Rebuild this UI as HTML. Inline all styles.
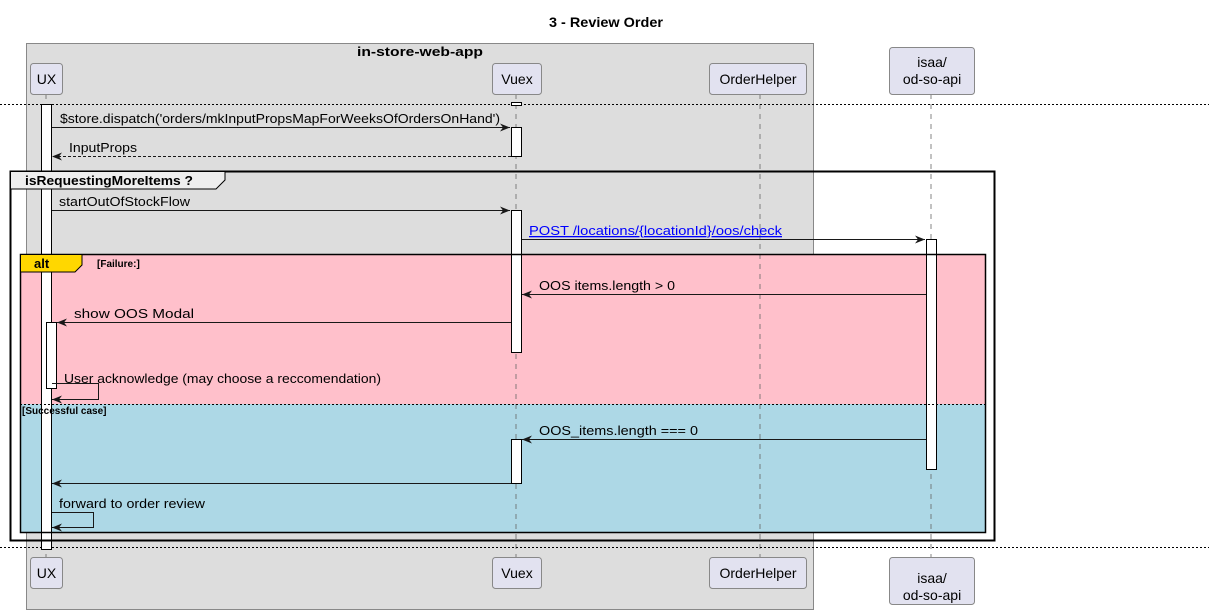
<!DOCTYPE html>
<html><head><meta charset="utf-8"><style>
html,body{margin:0;padding:0;background:#fff;}
svg{display:block;font-family:"Liberation Sans","DejaVu Sans",sans-serif;}
</style></head><body>
<svg width="1209" height="614" viewBox="0 0 1209 614" xmlns="http://www.w3.org/2000/svg">
<defs>
<marker id="a" viewBox="0 0 10 10" refX="10" refY="5" markerWidth="10" markerHeight="10" orient="auto-start-reverse" markerUnits="userSpaceOnUse">
<path d="M0,1 L10,5 L0,9 L3,5 Z" fill="#181818"/></marker>
</defs>
<text x="549" y="27" font-size="14" font-weight="bold" fill="#000" textLength="114" lengthAdjust="spacingAndGlyphs">3 - Review Order</text>
<rect x="26.5" y="43.5" width="787" height="566" fill="#dddddd" stroke="#888" stroke-width="1"/>
<text x="357" y="56" font-size="13" font-weight="bold" textLength="126" lengthAdjust="spacingAndGlyphs">in-store-web-app</text>

<rect x="20" y="254" width="966" height="150" fill="#ffc0cb"/>
<rect x="20" y="404" width="966" height="129" fill="#add8e6"/>

<g stroke="#666" stroke-dasharray="5,5" stroke-width="0.8">
<line x1="46" y1="94" x2="46" y2="557"/>
<line x1="516" y1="94" x2="516" y2="557"/>
<line x1="760" y1="94" x2="760" y2="557"/>
<line x1="931" y1="94" x2="931" y2="557"/>
</g>

<g fill="#e2e2f0" stroke="#888" stroke-width="1">
<rect x="30.5" y="63.5" width="32" height="31" rx="3"/>
<rect x="492.5" y="63.5" width="49" height="31" rx="3"/>
<rect x="709.5" y="63.5" width="97" height="31" rx="3"/>
<rect x="889.5" y="47.5" width="85" height="47" rx="3"/>
<rect x="30.5" y="557.5" width="32" height="31" rx="3"/>
<rect x="492.5" y="557.5" width="49" height="31" rx="3"/>
<rect x="709.5" y="557.5" width="97" height="31" rx="3"/>
<rect x="889.5" y="557.5" width="85" height="47" rx="3"/>
</g>
<g font-size="14" text-anchor="middle" fill="#000">
<text x="46.5" y="84">UX</text>
<text x="517" y="84">Vuex</text>
<text x="758" y="84">OrderHelper</text>
<text x="932" y="67">isaa/</text>
<text x="932" y="84">od-so-api</text>
<text x="46.5" y="578">UX</text>
<text x="517" y="578">Vuex</text>
<text x="758" y="578">OrderHelper</text>
<text x="932" y="583">isaa/</text>
<text x="932" y="600">od-so-api</text>
</g>

<line x1="0" y1="104.5" x2="1209" y2="104.5" stroke="#000" stroke-dasharray="2,2" stroke-width="1"/>
<line x1="0" y1="547.5" x2="1209" y2="547.5" stroke="#000" stroke-dasharray="2,2" stroke-width="1"/>

<g fill="#fff" stroke="#000" stroke-width="1">
<rect x="41.5" y="104.5" width="10" height="445"/>
<rect x="46.5" y="322.5" width="10" height="66"/>
<rect x="511.5" y="102.5" width="10" height="3"/>
<rect x="511.5" y="127.5" width="10" height="29"/>
<rect x="511.5" y="210.5" width="10" height="142"/>
<rect x="511.5" y="439.5" width="10" height="44"/>
<rect x="926.5" y="239.5" width="10" height="230"/>
</g>

<rect x="20.5" y="254.5" width="965" height="278" fill="none" stroke="#000" stroke-width="1.5"/>
<line x1="20" y1="404.5" x2="986" y2="404.5" stroke="#000" stroke-dasharray="2,2" stroke-width="1"/>
<path d="M20.5,254.5 H82 V265 L75,272 H20.5 Z" fill="#ffd700" stroke="#000" stroke-width="1"/>
<text x="34" y="268" font-size="13" font-weight="bold">alt</text>
<text x="97" y="267" font-size="10" font-weight="bold">[Failure:]</text>
<text x="22" y="414" font-size="10" font-weight="bold">[Successful case]</text>

<rect x="10.5" y="171.5" width="984" height="369" fill="none" stroke="#000" stroke-width="2"/>
<path d="M10.5,171.5 H225 V180 L216,189 H10.5 Z" fill="#eeeeee" stroke="#000" stroke-width="1"/>
<text x="25" y="185" font-size="13" font-weight="bold" textLength="168" lengthAdjust="spacingAndGlyphs">isRequestingMoreItems ?</text>

<g stroke="#181818" stroke-width="1" fill="none">
<line x1="52" y1="127.5" x2="510" y2="127.5" marker-end="url(#a)"/>
<line x1="511" y1="156.5" x2="52" y2="156.5" stroke-dasharray="3,2" marker-end="url(#a)"/>
<line x1="52" y1="210.5" x2="510" y2="210.5" marker-end="url(#a)"/>
<line x1="522" y1="239.5" x2="925" y2="239.5" marker-end="url(#a)"/>
<line x1="926" y1="294.5" x2="522" y2="294.5" marker-end="url(#a)"/>
<line x1="511" y1="322.5" x2="57" y2="322.5" marker-end="url(#a)"/>
<polyline points="52,383.5 98.5,383.5 98.5,399.5 52,399.5" marker-end="url(#a)"/>
<line x1="926" y1="439.5" x2="522" y2="439.5" marker-end="url(#a)"/>
<line x1="511" y1="483.5" x2="52" y2="483.5" marker-end="url(#a)"/>
<polyline points="52,512.5 93.5,512.5 93.5,527.5 52,527.5" marker-end="url(#a)"/>
</g>
<g font-size="13" fill="#000" lengthAdjust="spacingAndGlyphs">
<text x="60" y="123" textLength="440" lengthAdjust="spacingAndGlyphs">$store.dispatch('orders/mkInputPropsMapForWeeksOfOrdersOnHand')</text>
<text x="69" y="152" textLength="68" lengthAdjust="spacingAndGlyphs">InputProps</text>
<text x="59" y="206" textLength="131" lengthAdjust="spacingAndGlyphs">startOutOfStockFlow</text>
<text x="529" y="235" fill="#0000ff" text-decoration="underline" textLength="253" lengthAdjust="spacingAndGlyphs">POST /locations/{locationId}/oos/check</text>
<text x="539" y="290" textLength="136" lengthAdjust="spacingAndGlyphs">OOS items.length &gt; 0</text>
<text x="74" y="318" textLength="120" lengthAdjust="spacingAndGlyphs">show OOS Modal</text>
<text x="64" y="383" textLength="317" lengthAdjust="spacingAndGlyphs">User acknowledge (may choose a reccomendation)</text>
<text x="539" y="435" textLength="159" lengthAdjust="spacingAndGlyphs">OOS_items.length === 0</text>
<text x="59" y="508" textLength="146" lengthAdjust="spacingAndGlyphs">forward to order review</text>
</g>
</svg>
</body></html>
